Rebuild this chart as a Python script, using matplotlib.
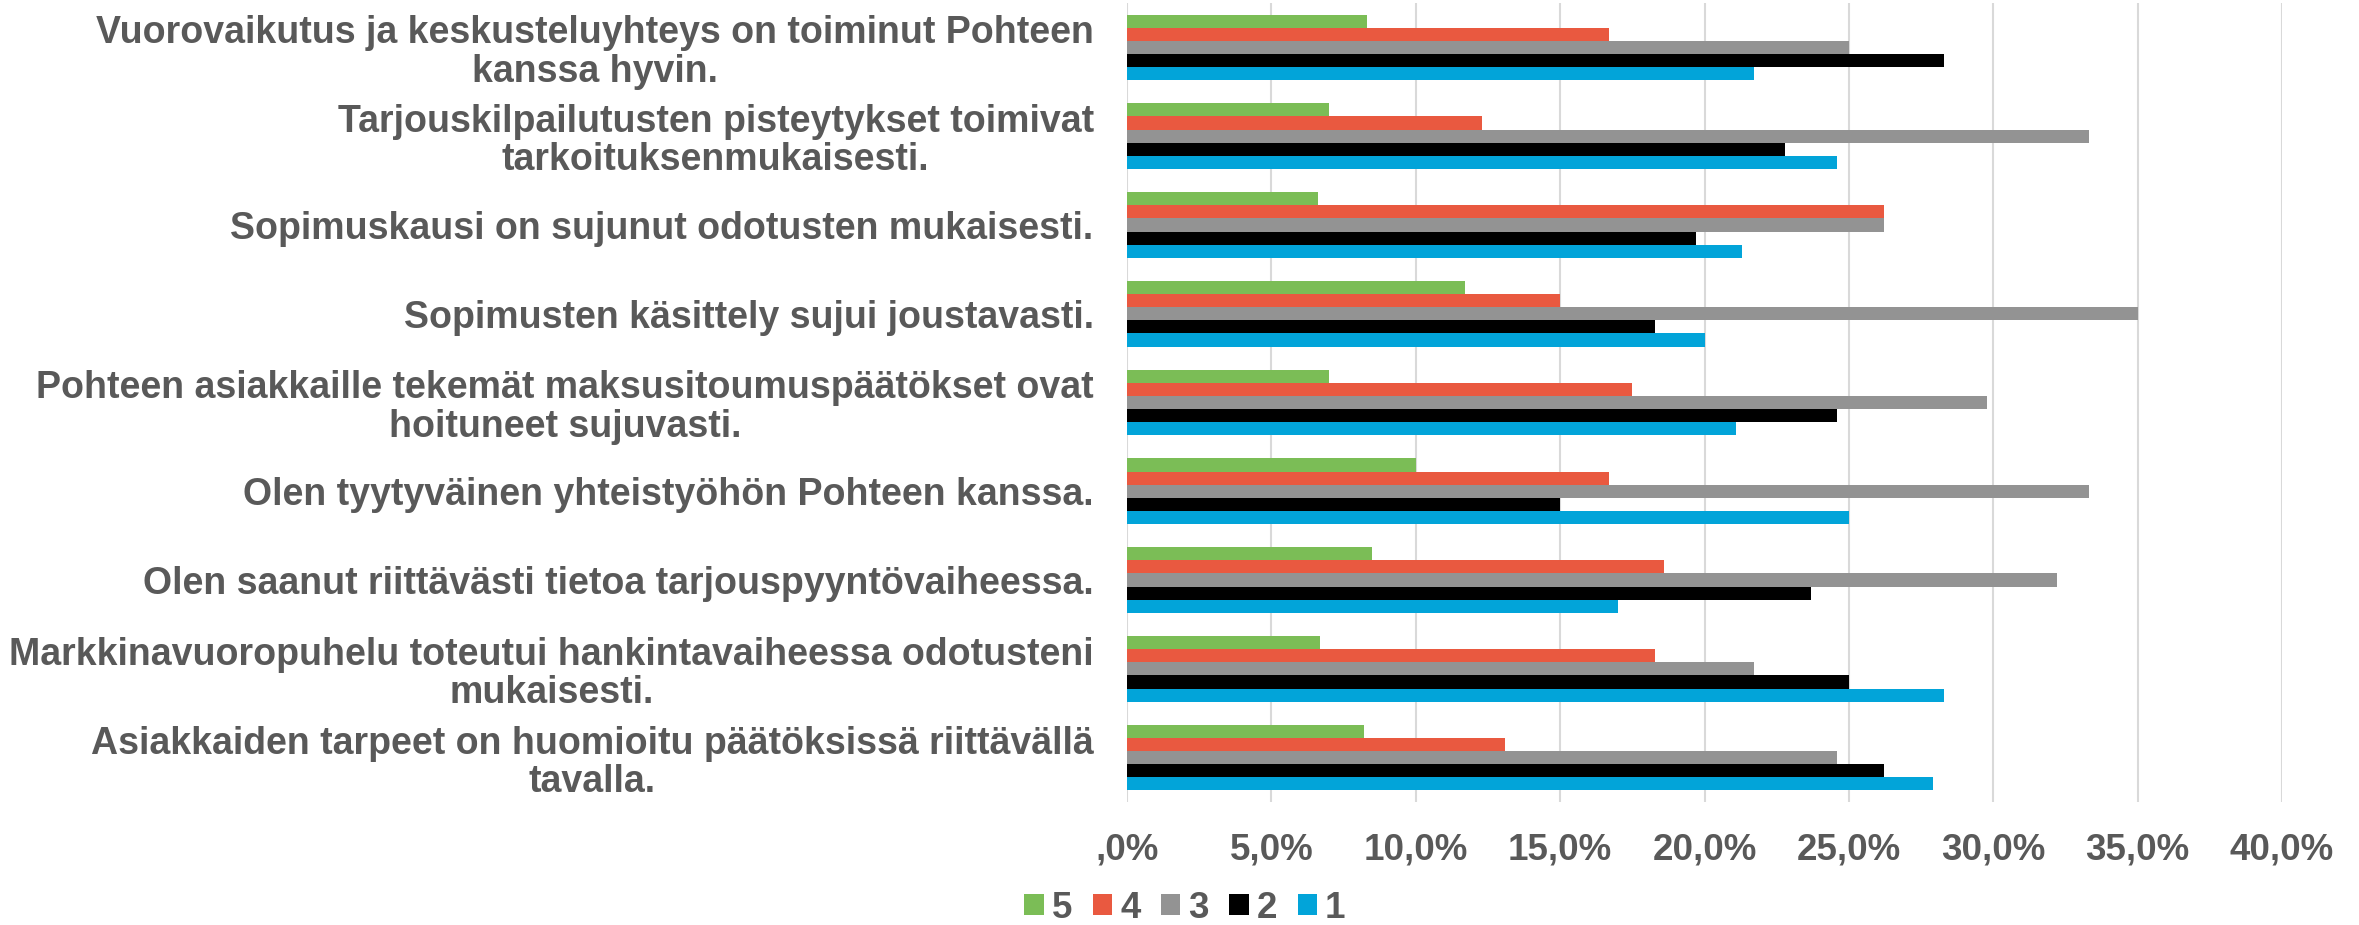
import matplotlib.pyplot as plt
import numpy as np

plt.rcParams['font.family'] = ['Liberation Sans', 'DejaVu Sans']
plt.rcParams['font.weight'] = 'bold'

# categories, top to bottom as shown
categories = [
    "Vuorovaikutus ja keskusteluyhteys on toiminut Pohteen\nkanssa hyvin.",
    "Tarjouskilpailutusten pisteytykset toimivat\ntarkoituksenmukaisesti.",
    "Sopimuskausi on sujunut odotusten mukaisesti.",
    "Sopimusten käsittely sujui joustavasti.",
    "Pohteen asiakkaille tekemät maksusitoumuspäätökset ovat\nhoituneet sujuvasti.",
    "Olen tyytyväinen yhteistyöhön Pohteen kanssa.",
    "Olen saanut riittävästi tietoa tarjouspyyntövaiheessa.",
    "Markkinavuoropuhelu toteutui hankintavaiheessa odotusteni\nmukaisesti.",
    "Asiakkaiden tarpeet on huomioitu päätöksissä riittävällä\ntavalla.",
]

# percentages per answer value
s5 = [8.3, 7.0, 6.6, 11.7, 7.0, 10.0, 8.5, 6.7, 8.2]
s4 = [16.7, 12.3, 26.2, 15.0, 17.5, 16.7, 18.6, 18.3, 13.1]
s3 = [25.0, 33.3, 26.2, 35.0, 29.8, 33.3, 32.2, 21.7, 24.6]
s2 = [28.3, 22.8, 19.7, 18.3, 24.6, 15.0, 23.7, 25.0, 26.2]
s1 = [21.7, 24.6, 21.3, 20.0, 21.1, 25.0, 17.0, 28.3, 27.9]

series = [s5, s4, s3, s2, s1]
names = ['5', '4', '3', '2', '1']
colors = ['#7BBD56', '#E95940', '#939393', '#000000', '#02A4D9']

xticks = [0, 5, 10, 15, 20, 25, 30, 35, 40]
xticklabels = [',0%', '5,0%', '10,0%', '15,0%', '20,0%', '25,0%', '30,0%', '35,0%', '40,0%']

txt = '#595959'

fig = plt.figure(figsize=(23.59, 9.25), dpi=100)
ax = fig.add_axes([1127/2359, 1 - 802/925, (2282 - 1127)/2359, 799/925])

y = np.arange(len(categories))
h = 0.148
for j, (vals, nm, c) in enumerate(zip(series, names, colors)):
    ax.barh(y - 2*h + j*h, vals, height=h, color=c, label=nm)

ax.set_xlim(0, 40)
ax.set_ylim(len(categories) - 0.5, -0.5)
ax.set_xticks(xticks)
ax.set_xticklabels(xticklabels)
ax.set_yticks(y)
ax.set_yticklabels(categories)
for t in ax.get_yticklabels():
    t.set_multialignment('center')
    t.set_linespacing(1.08)

ax.tick_params(axis='x', length=0, labelsize=26.5, labelcolor=txt, pad=22)
ax.tick_params(axis='y', length=0, labelsize=27, labelcolor=txt, pad=24)
ax.grid(axis='x', color='#D9D9D9', linewidth=1.5)
ax.set_axisbelow(True)
for s in ax.spines.values():
    s.set_visible(False)

fig.legend(loc='center', bbox_to_anchor=(1185/2359, 1 - 908/925), ncol=5,
           frameon=False, fontsize=26.5, labelcolor=txt, handlelength=0.53,
           handleheight=0.53, handletextpad=0.22, columnspacing=0.55,
           borderpad=0)

fig.savefig('out.png', dpi=100)
